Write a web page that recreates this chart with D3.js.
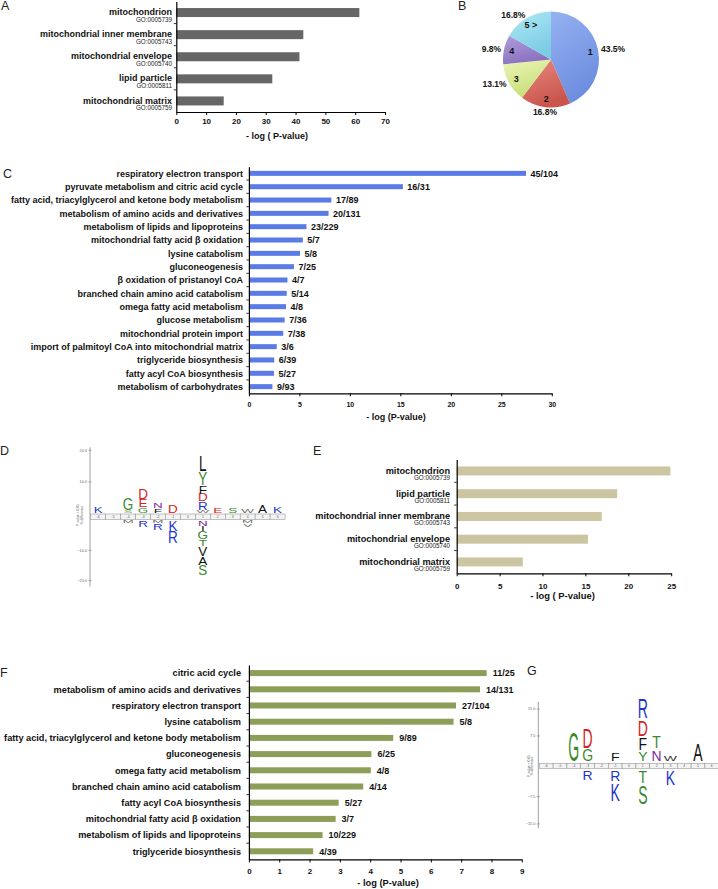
<!DOCTYPE html>
<html><head><meta charset="utf-8">
<script src="https://cdn.jsdelivr.net/npm/d3@7/dist/d3.min.js"></script>
<style>
html,body{margin:0;padding:0;background:#fff}
svg{display:block}
</style></head>
<body>
<svg id="fig" width="718" height="889"></svg>
<script>
const FONT = '"Liberation Sans", Arial, Helvetica, sans-serif';

// ---------- Panel A ----------
const aCategories = ["mitochondrion","mitochondrial inner membrane","mitochondrial envelope","lipid particle","mitochondrial matrix"];
const aGoIds = ["GO:0005739","GO:0005743","GO:0005740","GO:0005811","GO:0005759"];
const aValues = [61.4, 42.6, 41.3, 32.2, 15.9];
const aTicks = [0,10,20,30,40,50,60,70];

// ---------- Panel B ----------
const bLabels = ["1","2","3","4","5 >"];
const bValues = [43.5, 16.8, 13.1, 9.8, 16.8];

// ---------- Panel C ----------
const cCategories = ["respiratory electron transport","pyruvate metabolism and citric acid cycle",
  "fatty acid, triacylglycerol and ketone body metabolism","metabolism of amino acids and derivatives",
  "metabolism of lipids and lipoproteins","mitochondrial fatty acid \u03b2 oxidation","lysine catabolism",
  "gluconeogenesis","\u03b2 oxidation of pristanoyl CoA","branched chain amino acid catabolism",
  "omega fatty acid metabolism","glucose metabolism","mitochondrial protein import",
  "import of palmitoyl CoA into mitochondrial matrix","triglyceride biosynthesis",
  "fatty acyl CoA biosynthesis","metabolism of carbohydrates"];
const cValues = [27.45, 15.25, 8.17, 7.89, 5.7, 5.34, 5.06, 4.46, 3.82, 3.75, 3.68, 3.54, 3.4, 2.76, 2.51, 2.48, 2.33];
const cCounts = ["45/104","16/31","17/89","20/131","23/229","5/7","5/8","7/25","4/7","5/14","4/8","7/36","7/38","3/6","6/39","5/27","9/93"];
const cTicks = [0,5,10,15,20,25,30];

// ---------- Panel D (logo) ----------
const dPositions = [-6,-5,-4,-3,-2,-1,0,1,2,3,4,5,6];
const dAbove = [ // [position, letter, height], bottom to top
  [-6,"K",1.9],
  [-4,"S",0.6],[-4,"G",3.7],
  [-3,"G",1.5],[-3,"E",2.4],[-3,"D",3.4],
  [-2,"F",1.3],[-2,"N",1.6],
  [-1,"D",2.3],
  [1,"W",0.6],[1,"R",2.6],[1,"D",2.3],[1,"F",2.6],[1,"Y",4.0],[1,"L",5.0],
  [2,"E",1.6],
  [3,"S",1.6],
  [4,"W",1.0],
  [5,"A",2.4],
  [6,"K",2.2]];
const dBelow = [ // top to bottom
  [-4,"M",0.8],
  [-3,"R",2.0],
  [-2,"M",0.9],[-2,"R",2.0],
  [-1,"K",3.3],[-1,"R",3.9],
  [1,"N",1.65],[1,"I",1.55],[1,"G",2.5],[1,"T",2.1],[1,"V",3.0],[1,"A",2.75],[1,"S",3.3],
  [4,"M",0.9],[4,"V",1.0]];
const dTicks = [20,10,-10,-20];

// ---------- Panel E ----------
const eCategories = ["mitochondrion","lipid particle","mitochondrial inner membrane","mitochondrial envelope","mitochondrial matrix"];
const eGoIds = ["GO:0005739","GO:0005811","GO:0005743","GO:0005740","GO:0005759"];
const eValues = [24.9, 18.7, 16.9, 15.3, 7.7];
const eTicks = [0,5,10,15,20,25];

// ---------- Panel F ----------
const fCategories = ["citric acid cycle","metabolism of amino acids and derivatives","respiratory electron transport",
  "lysine catabolism","fatty acid, triacylglycerol and ketone body metabolism","gluconeogenesis",
  "omega fatty acid metabolism","branched chain amino acid catabolism","fatty acyl CoA biosynthesis",
  "mitochondrial fatty acid \u03b2 oxidation","metabolism of lipids and lipoproteins","triglyceride biosynthesis"];
const fValues = [7.84, 7.62, 6.83, 6.75, 4.76, 4.04, 4.02, 3.77, 2.96, 2.86, 2.43, 2.12];
const fCounts = ["11/25","14/131","27/104","5/8","9/89","6/25","4/8","4/14","5/27","3/7","10/229","4/39"];
const fTicks = [0,1,2,3,4,5,6,7,8,9];

// ---------- Panel G (logo) ----------
const gPositions = [-6,-5,-4,-3,-2,-1,0,1,2,3,4,5,6];
const gAbove = [
  [-4,"G",8.2],
  [-3,"G",3.25],[-3,"D",5.4],
  [-1,"F",2.15],
  [1,"Y",2.7],[1,"F",3.25],[1,"D",4.5],[1,"R",5.4],
  [2,"N",3.0],[2,"T",3.25],
  [3,"W",1.4],
  [5,"A",4.8]];
const gBelow = [
  [-3,"R",2.5],
  [-1,"R",2.75],[-1,"K",4.85],
  [1,"T",3.2],[1,"S",5.2],
  [3,"K",3.85]];
const gTicks = [15,7.5,-7.5,-15];

const letterColors = {K:"#1f33cc",R:"#1f33cc",D:"#d62222",E:"#d62222",G:"#3a8a2c",S:"#3a8a2c",
  T:"#3a8a2c",Y:"#3a8a2c",N:"#7b2b9c",L:"#111",F:"#111",A:"#111",V:"#111",I:"#111",M:"#333",W:"#333"};

const svg = d3.select("#fig").attr("font-family", FONT);

function panelLabel(t, x, y){
  svg.append("text").attr("x",x).attr("y",y).attr("font-size",12.5).attr("fill","#222").text(t);
}

function hbar(cfg){
  const g = svg.append("g");
  const x = d3.scaleLinear().domain([0,cfg.max]).range([cfg.x0,cfg.x1]);
  const y = d3.scaleBand().domain(cfg.cats).range([cfg.yTop,cfg.yBot]);
  const mid = c => y(c) + y.bandwidth()/2;
  g.selectAll("rect.bar").data(cfg.vals).join("rect").attr("class","bar")
    .attr("x", x(0)).attr("y", (d,i)=>mid(cfg.cats[i]) - cfg.barH/2)
    .attr("width", d=>x(d)-x(0)).attr("height", cfg.barH).attr("fill", cfg.color);
  g.selectAll("text.cat").data(cfg.cats).join("text").attr("class","cat")
    .attr("x", cfg.labelX).attr("y", d=>mid(d)+cfg.labelDy)
    .attr("text-anchor","end").attr("font-size",cfg.labelSize).attr("font-weight","bold")
    .attr("fill","#111").text(d=>d);
  if (cfg.go){
    g.selectAll("text.go").data(cfg.go).join("text").attr("class","go")
      .attr("x", cfg.labelX).attr("y", (d,i)=>mid(cfg.cats[i])+cfg.goDy)
      .attr("text-anchor","end").attr("font-size",cfg.goSize).attr("fill","#222").text(d=>d);
  }
  if (cfg.counts){
    g.selectAll("text.cnt").data(cfg.counts).join("text").attr("class","cnt")
      .attr("x", (d,i)=>x(cfg.vals[i])+cfg.countDx).attr("y", (d,i)=>mid(cfg.cats[i])+cfg.countDy)
      .attr("font-size",cfg.countSize).attr("font-weight","bold").attr("fill","#111").text(d=>d);
  }
  const ax = g.append("g").attr("transform",`translate(0,${cfg.yBot})`)
    .call(d3.axisBottom(x).tickValues(cfg.ticks).tickSize(3).tickSizeOuter(0).tickPadding(cfg.tickPad));
  ax.attr("font-family",FONT).attr("font-size",cfg.tickFont).attr("font-weight","bold");
  ax.select(".domain").attr("stroke-width",1.2);
  ax.selectAll(".tick text").attr("fill","#111");
  const ay = g.append("g").attr("transform",`translate(${cfg.x0},0)`)
    .call(d3.axisLeft(y).tickSize(0).tickSizeOuter(0).tickFormat(()=>""));
  ay.select(".domain").attr("stroke-width",1.2);
  g.selectAll("line.bt").data(cfg.cats.slice(1)).join("line").attr("class","bt")
    .attr("x1",cfg.x0-2.5).attr("x2",cfg.x0).attr("y1",d=>y(d)).attr("y2",d=>y(d))
    .attr("stroke","#000").attr("stroke-width",0.8);
  g.append("text").attr("x",cfg.titleX).attr("y",cfg.titleY).attr("text-anchor","middle")
    .attr("font-size",cfg.titleSize).attr("font-weight","bold").attr("fill","#111").text(cfg.title);
}

function logo(cfg){
  const g = svg.append("g");
  const x = d3.scaleBand().domain(cfg.positions).range([cfg.x0, cfg.x0 + cfg.positions.length*cfg.boxW]);
  const yU = d3.scaleLinear().domain([0,cfg.maxU]).range([cfg.upZero, cfg.upZero - cfg.maxU*cfg.upPx]);
  const yD = d3.scaleLinear().domain([0,-cfg.maxU]).range([cfg.dnZero, cfg.dnZero + cfg.maxU*cfg.dnPx]);
  g.append("line").attr("x1",cfg.axisX).attr("x2",cfg.axisX).attr("y1",cfg.axisTop).attr("y2",cfg.axisBot)
    .attr("stroke","#888").attr("stroke-width",0.8);
  const tickG = g.append("g");
  cfg.ticks.forEach(t=>{
    const yy = t>0 ? yU(t) : yD(t);
    tickG.append("line").attr("x1",cfg.axisX-1.5).attr("x2",cfg.axisX+1.5).attr("y1",yy).attr("y2",yy)
      .attr("stroke","#888").attr("stroke-width",0.7);
    tickG.append("text").attr("x",cfg.axisX-3).attr("y",yy+1.3).attr("text-anchor","end")
      .attr("font-size",3.8).attr("fill","#666").text(d3.format(".1f")(t));
  });
  const lt = g.append("text").attr("transform",`translate(${cfg.labX},${cfg.labY}) rotate(-90)`)
    .attr("text-anchor","middle").attr("font-size",3.4).attr("fill","#666");
  lt.append("tspan").attr("x",0).attr("dy",0).text("P-value < 0.05");
  lt.append("tspan").attr("x",0).attr("dy",3.8).text("% difference");
  const bx = g.append("g");
  bx.selectAll("rect").data(cfg.positions).join("rect")
    .attr("x",d=>x(d)).attr("y",cfg.boxTop).attr("width",x.bandwidth()).attr("height",cfg.boxH)
    .attr("fill","#f3f3f3").attr("stroke","#888").attr("stroke-width",0.5);
  bx.selectAll("text").data(cfg.positions).join("text")
    .attr("x",d=>x(d)+x.bandwidth()/2).attr("y",cfg.boxTop+cfg.boxH/2+1.2)
    .attr("text-anchor","middle").attr("font-size",3.4).attr("fill","#555").text(d=>d);
  const CAP = 7.16;
  function glyph(letter, cx, yBottom, hPx){
    g.append("text").attr("transform",`translate(${cx},${yBottom}) scale(${cfg.sx},${hPx/CAP})`)
      .attr("text-anchor","middle").attr("font-size",10)
      .attr("fill",letterColors[letter]||"#111").attr("opacity", hPx<3.5?0.7:1).text(letter);
  }
  const cumU = {};
  cfg.above.forEach(([p,l,h])=>{
    const base = (cumU[p]||0) + cfg.gap;
    const y0 = yU(base), y1 = yU(base+h);
    glyph(l, x(p)+x.bandwidth()/2, y0, y0-y1);
    cumU[p] = base + h;
  });
  const cumD = {};
  cfg.below.forEach(([p,l,h])=>{
    const base = (cumD[p]||0) + cfg.gap;
    const y0 = yD(-base), y1 = yD(-(base+h));
    glyph(l, x(p)+x.bandwidth()/2, y1, y1-y0);
    cumD[p] = base + h;
  });
}

// ---------- draw A ----------
panelLabel("A", 1, 10);
hbar({cats:aCategories, vals:aValues, go:aGoIds, max:70, x0:176.3, x1:385, yTop:1.5, yBot:112,
  barH:9, color:"#666666", labelX:172, labelSize:9, labelDy:2.6, goDy:9.4, goSize:6.3,
  ticks:aTicks, tickFont:8, tickPad:3.3, title:"- log ( P-value)", titleX:277, titleY:138.5, titleSize:9});

// ---------- draw B ----------
panelLabel("B", 458, 10);
(function(){
  const cx = 551, cy = 59.5, r = 48;
  const grads = [["#96b2f2","#6d8ddf"],["#e88a80","#c9554c"],["#ecf5b8","#c8df78"],["#af9bdb","#8a72bf"],["#b0e8f6","#7bcce4"]];
  const defs = svg.append("defs");
  grads.forEach((c,i)=>{
    const lg = defs.append("linearGradient").attr("id","pg"+i).attr("x1",0).attr("y1",0).attr("x2",0.4).attr("y2",1);
    lg.append("stop").attr("offset","0%").attr("stop-color",c[0]);
    lg.append("stop").attr("offset","100%").attr("stop-color",c[1]);
  });
  const arcs = d3.pie().sort(null).value(d=>d)(bValues);
  const arc = d3.arc().innerRadius(0).outerRadius(r);
  const inArc = d3.arc().innerRadius(40).outerRadius(40);
  const outArc = d3.arc().innerRadius(51).outerRadius(51);
  const g = svg.append("g").attr("transform",`translate(${cx},${cy})`);
  g.selectAll("path").data(arcs).join("path").attr("d",arc).attr("fill",(d,i)=>`url(#pg${i})`);
  g.selectAll("text.in").data(arcs).join("text").attr("class","in")
    .attr("transform",d=>`translate(${inArc.centroid(d)})`).attr("dy","0.35em")
    .attr("text-anchor","middle").attr("font-size",9).attr("font-weight","bold").attr("fill","#111")
    .text((d,i)=>bLabels[i]);
  g.selectAll("text.out").data(arcs).join("text").attr("class","out")
    .each(function(d){
      const [px,py] = outArc.centroid(d);
      const anchor = px>8 ? "start" : (px<-8 ? "end" : "middle");
      d3.select(this).attr("x",px).attr("y",py).attr("text-anchor",anchor)
        .attr("dy", anchor==="middle" ? (py>0 ? "0.6em" : "-0.2em") : "0.35em");
    })
    .attr("font-size",8.5).attr("font-weight","bold").attr("fill","#111")
    .text(d=>d3.format(".1f")(d.data)+"%");
})();

// ---------- draw C ----------
panelLabel("C", 3, 178);
hbar({cats:cCategories, vals:cValues, counts:cCounts, max:30, x0:248.9, x1:551.8, yTop:166.7, yBot:393.3,
  barH:5, color:"#5a7be6", labelX:243, labelSize:9, labelDy:3.2, countSize:9, countDx:4.5, countDy:3.2,
  ticks:cTicks, tickFont:7, tickPad:5.4, title:"- log (P-value)", titleX:396, titleY:419.5, titleSize:9});

// ---------- draw D ----------
panelLabel("D", 0, 455);
logo({positions:dPositions, above:dAbove, below:dBelow, ticks:dTicks, maxU:20,
  x0:90.7, boxW:14.95, boxTop:514, boxH:5.5, upZero:513.5, upPx:3.16, dnZero:520, dnPx:3.03,
  axisX:90, axisTop:447.3, axisBot:586.7, gap:0.2, sx:1.35, labX:79, labY:515});

// ---------- draw E ----------
panelLabel("E", 313, 455);
hbar({cats:eCategories, vals:eValues, go:eGoIds, max:25, x0:456.7, x1:671.2, yTop:459.6, yBot:573.3,
  barH:9, color:"#ccc5a2", labelX:450, labelSize:9.2, labelDy:2.8, goDy:8.9, goSize:6.3,
  ticks:eTicks, tickFont:8, tickPad:7, title:"- log ( P-value)", titleX:562.5, titleY:599, titleSize:9.4});

// ---------- draw F ----------
panelLabel("F", 0, 677);
hbar({cats:fCategories, vals:fValues, counts:fCounts, max:9, x0:248.9, x1:521.8, yTop:665, yBot:859.4,
  barH:6, color:"#8c9e58", labelX:241, labelSize:9.2, labelDy:3.3, countSize:9, countDx:6, countDy:3.3,
  ticks:fTicks, tickFont:8, tickPad:6, title:"- log (P-value)", titleX:388, titleY:886, titleSize:9.3});

// ---------- draw G ----------
panelLabel("G", 527, 675);
logo({positions:gPositions, above:gAbove, below:gBelow, ticks:gTicks, maxU:15,
  x0:539.3, boxW:13.8, boxTop:763.3, boxH:5.4, upZero:762.8, upPx:3.58, dnZero:769.2, dnPx:3.65,
  axisX:538.3, axisTop:701.7, axisBot:828.3, gap:0.5, sx:1.4, labX:529.5, labY:766});
</script>
</body></html>
